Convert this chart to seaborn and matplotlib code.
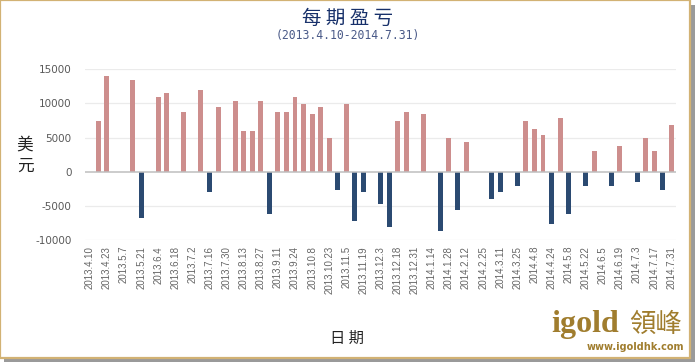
import matplotlib
matplotlib.use("Agg")
import matplotlib.pyplot as plt
import seaborn as sns
import pandas as pd
from matplotlib.patches import Rectangle

# weekly periods (odd entries sit between the labelled dates)
dates = [
    "2013.4.10", "2013.4.17", "2013.4.23", "2013.4.30", "2013.5.7", "2013.5.14",
    "2013.5.21", "2013.5.28", "2013.6.4", "2013.6.11", "2013.6.18", "2013.6.25",
    "2013.7.2", "2013.7.9", "2013.7.16", "2013.7.23", "2013.7.30", "2013.8.6",
    "2013.8.13", "2013.8.20", "2013.8.27", "2013.9.4", "2013.9.11", "2013.9.17",
    "2013.9.24", "2013.10.1", "2013.10.8", "2013.10.15", "2013.10.23", "2013.10.29",
    "2013.11.5", "2013.11.12", "2013.11.19", "2013.11.26", "2013.12.3", "2013.12.10",
    "2013.12.18", "2013.12.24", "2013.12.31", "2014.1.7", "2014.1.14", "2014.1.21",
    "2014.1.28", "2014.2.5", "2014.2.12", "2014.2.19", "2014.2.25", "2014.3.4",
    "2014.3.11", "2014.3.18", "2014.3.25", "2014.4.1", "2014.4.8", "2014.4.16",
    "2014.4.24", "2014.5.1", "2014.5.8", "2014.5.15", "2014.5.22", "2014.5.29",
    "2014.6.5", "2014.6.12", "2014.6.19", "2014.6.26", "2014.7.3", "2014.7.10",
    "2014.7.17", "2014.7.24", "2014.7.31",
]

profit = [
    0, 7400, 14000, 0, 0, 13400, -6700, 0, 10900, 11500,
    0, 8800, 0, 11900, -3000, 9400, 0, 10400, 5900, 5900,
    10400, -6100, 8800, 8800, 10900, 9900, 8400, 9400, 4900, -2600,
    9900, -7150, -3000, 0, -4650, -8000, 7400, 8800, 0, 8400,
    0, -8600, 4900, -5500, 4400, 0, 0, -4000, -3000, 0,
    -2000, 7400, 6300, 5400, -7600, 7900, -6100, 0, -2000, 3000,
    0, -2000, 3800, 0, -1500, 4900, 3000, -2600, 6900,
]

yticks = [-10000, -5000, 0, 5000, 10000, 15000]

df = pd.DataFrame({"date": dates, "profit": profit})
df["sign"] = ["neg" if v < 0 else "pos" for v in df.profit]

sns.set_theme(style="white")
plt.rcParams["font.family"] = ["DejaVu Sans", "Noto Sans CJK SC"]

fig = plt.figure(figsize=(6.95, 3.62), dpi=100)
ax = fig.add_axes([0.123, 0.336, 0.849, 0.473])

sns.barplot(data=df, x="date", y="profit", hue="sign", order=dates,
            palette={"pos": "#D88482", "neg": "#1F497D"}, dodge=False,
            width=0.58, legend=False, ax=ax, edgecolor="none", linewidth=0)

ax.set_ylim(-10000, 15000)
ax.set_xlim(-0.5, len(dates) - 0.5)
ax.set_yticks(yticks)
ax.set_yticklabels([str(t) for t in yticks], fontsize=7.5, color="#595959")
ax.set_xticks(range(0, len(dates), 2))
ax.set_xticklabels(dates[::2], rotation=90, fontsize=7, color="#666666",
                   family="Liberation Sans")
ax.tick_params(axis="both", length=0, pad=4)
ax.tick_params(axis="y", pad=10)
ax.set_xlabel("")
ax.set_ylabel("")
for t in yticks:
    if t != 0:
        ax.axhline(t, color="#EBEBEB", lw=0.9, zorder=0)
ax.axhline(0, color="#BFBFBF", lw=1.1, zorder=3)
sns.despine(ax=ax, left=True, bottom=True)

# titles and axis names
fig.text(0.5, 0.948, "每 期 盈 亏", ha="center", va="center", fontsize=14,
         color="#17306A", family="Noto Sans CJK SC")
fig.text(0.5, 0.903, "(2013.4.10-2014.7.31)", ha="center", va="center",
         fontsize=8.3, color="#4A5A88", family="DejaVu Sans Mono")
fig.text(0.036, 0.57, "美\n元", ha="center", va="center", fontsize=12,
         color="#222222", family="Noto Sans CJK SC", linespacing=1.3)
fig.text(0.499, 0.064, "日 期", ha="center", va="center", fontsize=11,
         color="#222222", family="Noto Sans CJK SC")

# watermark
gold = "#A07D2E"
fig.text(0.793, 0.083, "igold", ha="left", va="baseline", fontsize=23,
         fontweight="bold", color=gold, family="Liberation Serif")
fig.text(0.905, 0.083, "領峰", ha="left", va="baseline", fontsize=19,
         color=gold, family="Noto Sans CJK TC")
fig.text(0.985, 0.033, "www.igoldhk.com", ha="right", va="baseline",
         fontsize=7, fontweight="bold", color=gold, family="DejaVu Sans")

# frame
fig.patches.append(Rectangle((0.006, 0.0), 0.994, 0.985, transform=fig.transFigure,
                             facecolor="#9A9A9A", edgecolor="none", zorder=-2))
fig.patches.append(Rectangle((0.0, 0.012), 0.993, 0.988, transform=fig.transFigure,
                             facecolor="white", edgecolor="#D2B274", lw=1.6, zorder=-1))

fig.savefig("out.png", dpi=100)
